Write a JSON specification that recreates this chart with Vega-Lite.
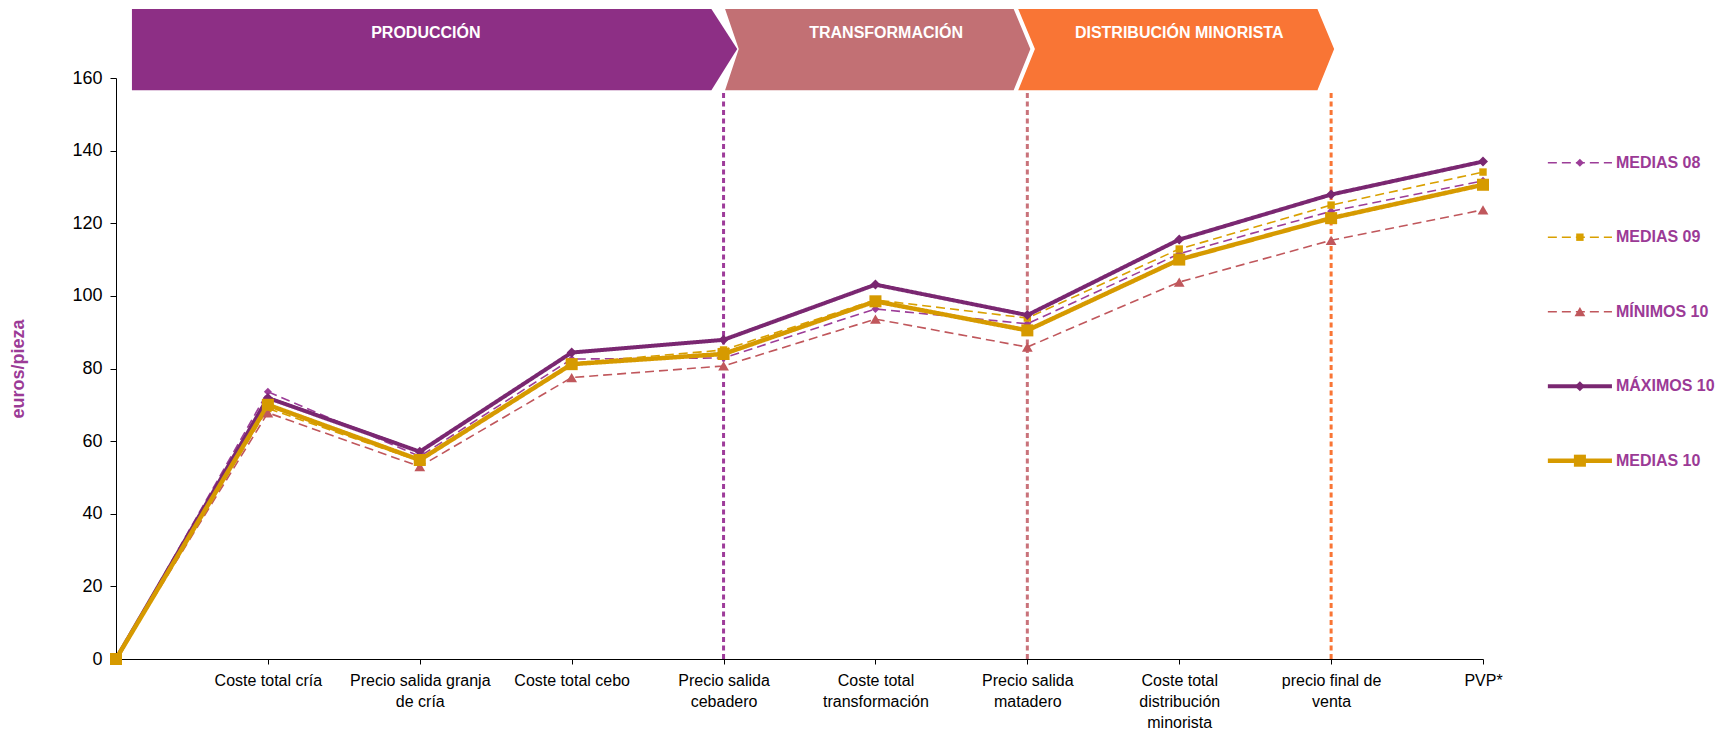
{
  "$schema": "https://vega.github.io/schema/vega-lite/v6.json",
  "width": 1367,
  "height": 581,
  "autosize": {"type": "none"},
  "padding": {"left": 116, "top": 78, "right": 240, "bottom": 79},
  "background": "white",
  "config": {"view": {"stroke": null}, "font": "Liberation Sans"},
  "datasets": {
    "series": [
      {"serie": "MEDIAS 08", "paso": "", "valor": 0},
      {"serie": "MEDIAS 08", "paso": "Coste total cría", "valor": 73.6},
      {"serie": "MEDIAS 08", "paso": "Precio salida granja\nde cría", "valor": 55.8},
      {"serie": "MEDIAS 08", "paso": "Coste total cebo", "valor": 82.6},
      {"serie": "MEDIAS 08", "paso": "Precio salida\ncebadero", "valor": 82.9},
      {"serie": "MEDIAS 08", "paso": "Coste total\ntransformación", "valor": 96.4},
      {"serie": "MEDIAS 08", "paso": "Precio salida\nmatadero", "valor": 92.3},
      {"serie": "MEDIAS 08", "paso": "Coste total\ndistribución\nminorista", "valor": 111.6},
      {"serie": "MEDIAS 08", "paso": "precio final de\nventa", "valor": 123.3},
      {"serie": "MEDIAS 08", "paso": "PVP*", "valor": 131.7},
      {"serie": "MEDIAS  09", "paso": "", "valor": 0},
      {"serie": "MEDIAS  09", "paso": "Coste total cría", "valor": 69.0},
      {"serie": "MEDIAS  09", "paso": "Precio salida granja\nde cría", "valor": 54.5},
      {"serie": "MEDIAS  09", "paso": "Coste total cebo", "valor": 81.5},
      {"serie": "MEDIAS  09", "paso": "Precio salida\ncebadero", "valor": 85.1},
      {"serie": "MEDIAS  09", "paso": "Coste total\ntransformación", "valor": 98.9},
      {"serie": "MEDIAS  09", "paso": "Precio salida\nmatadero", "valor": 93.9},
      {"serie": "MEDIAS  09", "paso": "Coste total\ndistribución\nminorista", "valor": 112.9},
      {"serie": "MEDIAS  09", "paso": "precio final de\nventa", "valor": 125.0},
      {"serie": "MEDIAS  09", "paso": "PVP*", "valor": 134.1},
      {"serie": "MÍNIMOS 10", "paso": "", "valor": 0},
      {"serie": "MÍNIMOS 10", "paso": "Coste total cría", "valor": 67.8},
      {"serie": "MÍNIMOS 10", "paso": "Precio salida granja\nde cría", "valor": 53.0},
      {"serie": "MÍNIMOS 10", "paso": "Coste total cebo", "valor": 77.5},
      {"serie": "MÍNIMOS 10", "paso": "Precio salida\ncebadero", "valor": 80.7},
      {"serie": "MÍNIMOS 10", "paso": "Coste total\ntransformación", "valor": 93.6},
      {"serie": "MÍNIMOS 10", "paso": "Precio salida\nmatadero", "valor": 85.9},
      {"serie": "MÍNIMOS 10", "paso": "Coste total\ndistribución\nminorista", "valor": 103.8},
      {"serie": "MÍNIMOS 10", "paso": "precio final de\nventa", "valor": 115.3},
      {"serie": "MÍNIMOS 10", "paso": "PVP*", "valor": 123.7},
      {"serie": "MÁXIMOS 10", "paso": "", "valor": 0},
      {"serie": "MÁXIMOS 10", "paso": "Coste total cría", "valor": 71.9},
      {"serie": "MÁXIMOS 10", "paso": "Precio salida granja\nde cría", "valor": 57.1},
      {"serie": "MÁXIMOS 10", "paso": "Coste total cebo", "valor": 84.4},
      {"serie": "MÁXIMOS 10", "paso": "Precio salida\ncebadero", "valor": 87.9},
      {"serie": "MÁXIMOS 10", "paso": "Coste total\ntransformación", "valor": 103.1},
      {"serie": "MÁXIMOS 10", "paso": "Precio salida\nmatadero", "valor": 94.7},
      {"serie": "MÁXIMOS 10", "paso": "Coste total\ndistribución\nminorista", "valor": 115.5},
      {"serie": "MÁXIMOS 10", "paso": "precio final de\nventa", "valor": 127.9},
      {"serie": "MÁXIMOS 10", "paso": "PVP*", "valor": 137.0},
      {"serie": "MEDIAS 10", "paso": "", "valor": 0},
      {"serie": "MEDIAS 10", "paso": "Coste total cría", "valor": 70.0},
      {"serie": "MEDIAS 10", "paso": "Precio salida granja\nde cría", "valor": 54.8},
      {"serie": "MEDIAS 10", "paso": "Coste total cebo", "valor": 81.2},
      {"serie": "MEDIAS 10", "paso": "Precio salida\ncebadero", "valor": 84.0},
      {"serie": "MEDIAS 10", "paso": "Coste total\ntransformación", "valor": 98.5},
      {"serie": "MEDIAS 10", "paso": "Precio salida\nmatadero", "valor": 90.5},
      {"serie": "MEDIAS 10", "paso": "Coste total\ndistribución\nminorista", "valor": 110.0},
      {"serie": "MEDIAS 10", "paso": "precio final de\nventa", "valor": 121.4},
      {"serie": "MEDIAS 10", "paso": "PVP*", "valor": 130.6}
    ],
    "etapas": [
      {"etapa": "PRODUCCIÓN", "centro": 2.04, "fin": 4},
      {"etapa": "TRANSFORMACIÓN", "centro": 5.07, "fin": 6},
      {"etapa": "DISTRIBUCIÓN MINORISTA", "centro": 7.0, "fin": 8}
    ],
    "banderas": [
      {"etapa": "PRODUCCIÓN", "v": 156.6, "izq": 0.105, "der": 3.92},
      {"etapa": "PRODUCCIÓN", "v": 168.0, "izq": 0.105, "der": 4.09},
      {"etapa": "PRODUCCIÓN", "v": 179.0, "izq": 0.105, "der": 3.92},
      {"etapa": "TRANSFORMACIÓN", "v": 156.6, "izq": 4.01, "der": 5.91},
      {"etapa": "TRANSFORMACIÓN", "v": 168.0, "izq": 4.10, "der": 6.02},
      {"etapa": "TRANSFORMACIÓN", "v": 179.0, "izq": 4.01, "der": 5.91},
      {"etapa": "DISTRIBUCIÓN MINORISTA", "v": 156.6, "izq": 5.94, "der": 7.91},
      {"etapa": "DISTRIBUCIÓN MINORISTA", "v": 168.0, "izq": 6.05, "der": 8.02},
      {"etapa": "DISTRIBUCIÓN MINORISTA", "v": 179.0, "izq": 5.94, "der": 7.91}
    ],
    "leyenda": [
      {"serie": "MEDIAS 08", "orden": 0},
      {"serie": "MEDIAS  09", "orden": 1},
      {"serie": "MÍNIMOS 10", "orden": 2},
      {"serie": "MÁXIMOS 10", "orden": 3},
      {"serie": "MEDIAS 10", "orden": 4}
    ]
  },
  "layer": [
    {
      "layer": [
        {
          "data": {"name": "etapas"},
          "mark": {"type": "rule", "strokeDash": [5, 3.5], "strokeWidth": 3},
          "encoding": {
            "x": {"field": "fin", "type": "quantitative", "scale": {"domain": [0, 9], "nice": false, "zero": false}, "axis": null},
            "y": {"datum": 0, "type": "quantitative", "scale": {"domain": [0, 160], "nice": false}, "axis": null},
            "y2": {"datum": 156.6},
            "stroke": {
              "field": "etapa", "type": "nominal", "legend": null,
              "scale": {"domain": ["PRODUCCIÓN", "TRANSFORMACIÓN", "DISTRIBUCIÓN MINORISTA"], "range": ["#9E3C9A", "#C9727A", "#F97535"]}
            }
          }
        },
        {
          "data": {"name": "banderas"},
          "mark": {"type": "area", "orient": "horizontal", "opacity": 1},
          "encoding": {
            "y": {"field": "v", "type": "quantitative"},
            "x": {"field": "izq", "type": "quantitative", "stack": null},
            "x2": {"field": "der"},
            "color": {"field": "etapa", "type": "nominal", "legend": null}
          }
        },
        {
          "data": {"name": "etapas"},
          "mark": {"type": "text", "fontWeight": "bold", "fontSize": 16, "color": "white", "baseline": "middle", "align": "center"},
          "encoding": {
            "x": {"field": "centro", "type": "quantitative"},
            "y": {"datum": 172.5},
            "text": {"field": "etapa"}
          }
        }
      ]
    },
    {
      "data": {"name": "series"},
      "encoding": {
        "x": {
          "field": "paso", "type": "nominal", "sort": null,
          "scale": {"type": "point", "padding": 0},
          "axis": {
            "orient": "bottom",
            "title": null, "labelExpr": "split(datum.label, '\\n')", "labelAngle": 0,
            "labelFontSize": 16, "labelColor": "#000", "labelLineHeight": 21,
            "labelPadding": 8, "labelOverlap": false, "labelLimit": 0,
            "tickSize": 5, "tickColor": "#000", "domainColor": "#000", "grid": false
          }
        },
        "y": {
          "field": "valor", "type": "quantitative",
          "scale": {"domain": [0, 160], "nice": false},
          "axis": {
            "orient": "left",
            "title": "euros/pieza", "titleColor": "#9B3A96", "titleFontSize": 18,
            "titleFontWeight": "bold", "titlePadding": 44,
            "values": [0, 20, 40, 60, 80, 100, 120, 140, 160],
            "labelFontSize": 18, "labelColor": "#000", "labelPadding": 8,
            "tickSize": 6, "tickColor": "#000", "domainColor": "#000",
            "gridColor": "#555", "gridWidth": 1
          }
        },
        "color": {
          "field": "serie", "type": "nominal", "legend": null,
          "scale": {
            "domain": ["MEDIAS 08", "MEDIAS  09", "MÍNIMOS 10", "MÁXIMOS 10", "MEDIAS 10", "PRODUCCIÓN", "TRANSFORMACIÓN", "DISTRIBUCIÓN MINORISTA"],
            "range": ["#9C3D98", "#D9A000", "#C0575C", "#7A2771", "#D69A00", "#8D2F85", "#C27074", "#F97535"]
          }
        }
      },
      "layer": [
        {
          "mark": {"type": "line"},
          "encoding": {
            "strokeDash": {
              "field": "serie", "type": "nominal", "legend": null,
              "scale": {"type": "ordinal", "domain": ["MEDIAS 08", "MEDIAS  09", "MÍNIMOS 10", "MÁXIMOS 10", "MEDIAS 10"], "range": [[9, 5], [9, 5], [9, 5], [1, 0], [1, 0]]}
            },
            "strokeWidth": {
              "field": "serie", "type": "nominal", "legend": null,
              "scale": {"type": "ordinal", "domain": ["MEDIAS 08", "MEDIAS  09", "MÍNIMOS 10", "MÁXIMOS 10", "MEDIAS 10"], "range": [1.6, 1.6, 1.6, 4, 4.5]}
            }
          }
        },
        {
          "mark": {"type": "point", "filled": true, "opacity": 1},
          "encoding": {
            "shape": {
              "field": "serie", "type": "nominal", "legend": null,
              "scale": {"type": "ordinal", "domain": ["MEDIAS 08", "MEDIAS  09", "MÍNIMOS 10", "MÁXIMOS 10", "MEDIAS 10"], "range": ["diamond", "square", "triangle-up", "diamond", "square"]}
            },
            "size": {
              "field": "serie", "type": "nominal", "legend": null,
              "scale": {"type": "ordinal", "domain": ["MEDIAS 08", "MEDIAS  09", "MÍNIMOS 10", "MÁXIMOS 10", "MEDIAS 10"], "range": [64, 55, 115, 100, 145]}
            }
          }
        }
      ]
    },
    {
      "data": {"name": "leyenda"},
      "encoding": {
        "y": {"field": "orden", "type": "quantitative", "scale": {"domain": [-1.137, 6.662], "reverse": true, "nice": false, "zero": false}, "axis": null}
      },
      "layer": [
        {
          "mark": {"type": "rule"},
          "encoding": {
            "x": {"datum": 9.427, "type": "quantitative", "scale": {"domain": [0, 9], "nice": false, "zero": false}, "axis": null},
            "x2": {"datum": 9.849},
            "color": {"field": "serie", "type": "nominal", "legend": null},
            "strokeDash": {"field": "serie", "type": "nominal", "legend": null, "scale": {"type": "ordinal"}},
            "strokeWidth": {"field": "serie", "type": "nominal", "legend": null, "scale": {"type": "ordinal"}}
          }
        },
        {
          "mark": {"type": "point", "filled": true, "opacity": 1},
          "encoding": {
            "x": {"datum": 9.638, "type": "quantitative"},
            "color": {"field": "serie", "type": "nominal", "legend": null},
            "shape": {"field": "serie", "type": "nominal", "legend": null, "scale": {"type": "ordinal"}},
            "size": {"field": "serie", "type": "nominal", "legend": null, "scale": {"type": "ordinal"}}
          }
        },
        {
          "mark": {"type": "text", "align": "left", "baseline": "middle", "fontWeight": "bold", "fontSize": 16, "color": "#9B3A96"},
          "encoding": {
            "x": {"datum": 9.875, "type": "quantitative"},
            "text": {"field": "serie"}
          }
        }
      ]
    }
  ],
  "resolve": {"scale": {"x": "independent", "y": "independent"}}
}
